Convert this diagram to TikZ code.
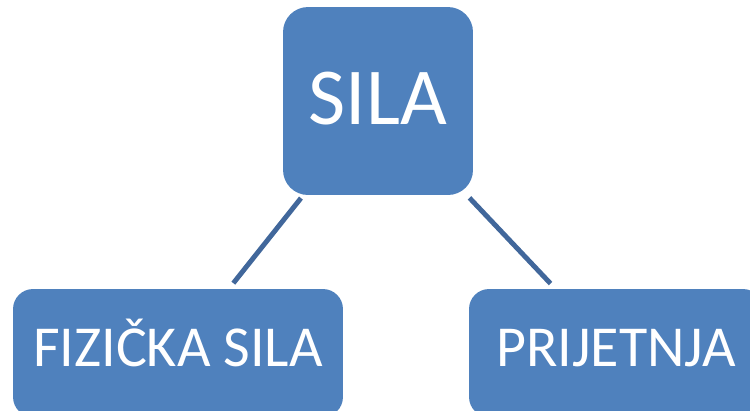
\documentclass[tikz,border=0pt]{standalone}
\usepackage{fontspec}
\setmainfont{Carlito}
\definecolor{boxblue}{RGB}{79,129,189}
\definecolor{lineblue}{RGB}{65,103,155}
\begin{document}
\begin{tikzpicture}[x=0.02cm, y=-0.02cm,
  kasten/.style={fill=boxblue, text=white, inner sep=0pt},
  oben/.style={kasten, rounded corners=0.5cm, minimum width=3.8cm, minimum height=3.76cm, text height=1.04cm, text depth=0.1cm, font=\fontsize{46}{50}\selectfont},
  unten/.style={kasten, rounded corners=0.4cm, minimum height=2.56cm, text height=0.75cm, text depth=0.2cm, font=\fontsize{33}{38}\selectfont},
  verbindung/.style={draw=lineblue, line width=2.8pt, shorten <=2pt, shorten >=4pt}]

\clip (0,0) rectangle (750,410);

% SILA oben
\node[oben] (sila) at (378,101) {SILA};

% zwei Kaesten darunter
\node[unten, minimum width=6.6cm] (fizicka) at (178,353) {FIZIČKA SILA};
\node[unten, minimum width=5.88cm] (prijetnja) at (616,353) {PRIJETNJA};

% Linien
\draw[verbindung] (sila) -- (fizicka);
\draw[verbindung] (sila) -- (prijetnja);

\end{tikzpicture}
\end{document}
